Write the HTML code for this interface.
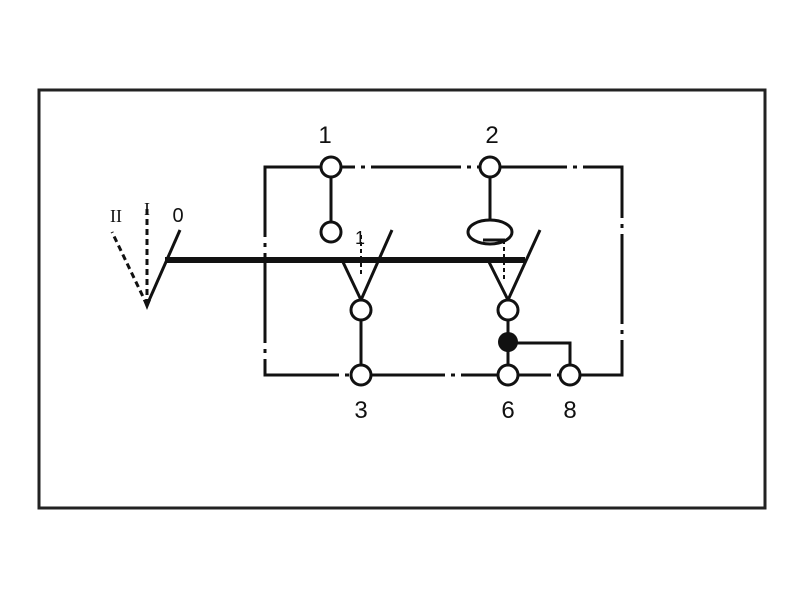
<!DOCTYPE html><html><head><style>body{margin:0;background:#fff}</style></head><body>
<svg width="800" height="600" xmlns="http://www.w3.org/2000/svg" font-family="Liberation Sans, sans-serif">
<rect x="39" y="90" width="726" height="418" fill="none" stroke="#222" stroke-width="3"/>
<g stroke="#111" stroke-width="3" fill="none">
<path d="M265 167H622V375H265Z" stroke-dasharray="90 6 4 6"/>
<line x1="331" y1="167" x2="331" y2="232"/>
<line x1="490" y1="167" x2="490" y2="220"/>
<line x1="361" y1="310" x2="361" y2="375"/>
<line x1="508" y1="310" x2="508" y2="375"/>
<path d="M508 343H570V375"/>
<line x1="165" y1="260" x2="525" y2="260" stroke-width="6"/>
<path d="M147 305L180 230"/>
<path d="M147 305L112 232M147 305V205" stroke-dasharray="6 4"/>
<path d="M361 300L392 230M361 300L342 260"/>
<path d="M508 300L540 230M508 300L488 260"/>
<path d="M361 235V275M504 240V280" stroke-dasharray="4 3" stroke-width="2"/>
<ellipse cx="490" cy="232" rx="22" ry="12"/>
<path d="M483 240H505"/>
</g>
<path d="M143 300L151 300L147 310Z" fill="#111"/>
<g fill="#fff" stroke="#111" stroke-width="3">
<circle cx="331" cy="167" r="10"/><circle cx="490" cy="167" r="10"/>
<circle cx="331" cy="232" r="10"/>
<circle cx="361" cy="310" r="10"/><circle cx="508" cy="310" r="10"/>
<circle cx="361" cy="375" r="10"/><circle cx="508" cy="375" r="10"/><circle cx="570" cy="375" r="10"/>
</g>
<circle cx="508" cy="342" r="10" fill="#111"/>
<g font-size="24" fill="#111" text-anchor="middle">
<text x="325" y="143">1</text><text x="492" y="143">2</text>
<text x="361" y="418">3</text><text x="508" y="418">6</text><text x="570" y="418">8</text>
<text x="178" y="222" font-size="20">0</text>
<text x="116" y="222" font-size="18" font-family="Liberation Serif, serif">II</text>
<text x="147" y="215" font-size="18" font-family="Liberation Serif, serif">I</text>
<text x="360" y="244" font-size="18">1</text>
</g>
</svg></body></html>
